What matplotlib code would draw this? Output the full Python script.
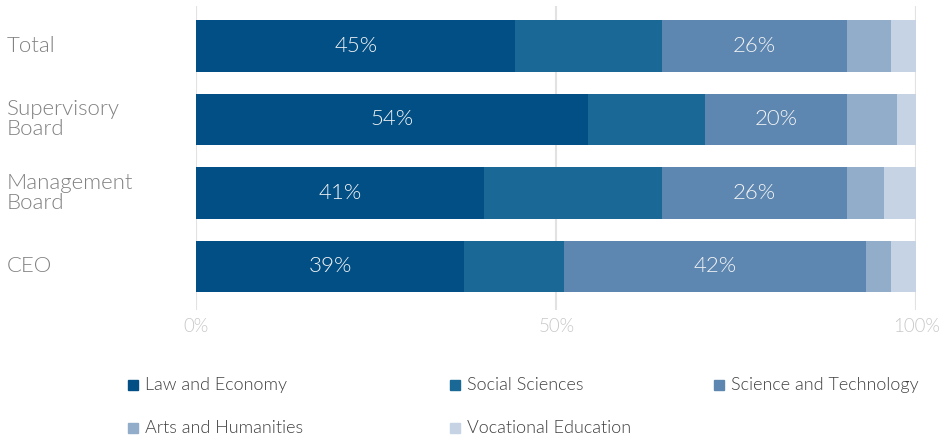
import matplotlib
matplotlib.use("Agg")
import matplotlib.pyplot as plt
from matplotlib.patches import Rectangle
import matplotlib.transforms as mtransforms

plt.rcParams['font.family'] = ['Lato', 'DejaVu Sans']

categories = ["Total", "Supervisory\nBoard", "Management\nBoard", "CEO"]
series = ["Law and Economy", "Social Sciences", "Science and Technology",
          "Arts and Humanities", "Vocational Education"]
law = [44.3, 54.4, 40.0, 37.2]
social = [20.4, 16.3, 24.7, 13.8]
science = [25.7, 19.7, 25.7, 42.0]
arts = [6.1, 6.9, 5.1, 3.5]
vocational = [3.5, 2.7, 4.5, 3.5]
law_labels = ["45%", "54%", "41%", "39%"]
science_labels = ["26%", "20%", "26%", "42%"]
xticks = [0, 50, 100]
xtick_labels = ["0%", "50%", "100%"]

colors = ["#024f85", "#196896", "#5d87b1", "#92adca", "#c6d3e5"]
W = 300

fig = plt.figure(figsize=(9.53, 4.40), dpi=100)
ax = fig.add_axes([196.3 / 953, 130 / 440, 720 / 953, 304 / 440])

values = [law, social, science, arts, vocational]
ypos = list(range(len(categories)))
left = [0.0] * len(categories)
bars = []
for name, vals, col in zip(series, values, colors):
    b = ax.barh(ypos, vals, left=left, height=0.707, color=col, zorder=2, label=name)
    bars.append(b)
    left = [l + v for l, v in zip(left, vals)]

ax.bar_label(bars[0], labels=law_labels, label_type='center', color='#f4f4f4',
             fontsize=16, fontweight=W)
ax.bar_label(bars[2], labels=science_labels, label_type='center', color='#f4f4f4',
             fontsize=16, fontweight=W)

ax.set_xlim(0, 100)
ax.set_ylim(3.592, -0.544)
ax.set_xticks(xticks)
ax.set_xticklabels(xtick_labels, color='#c8c8c8', fontsize=13.5, fontweight=W)
ax.tick_params(axis='x', length=0, pad=6)
ax.set_yticks([])
for s in ax.spines.values():
    s.set_visible(False)
ax.xaxis.grid(True, color='#e2e2e2', linewidth=1.5, zorder=0)
ax.set_axisbelow(True)

trans = mtransforms.blended_transform_factory(fig.transFigure, ax.transData)
for y, cat in zip(ypos, categories):
    ax.text(7 / 953, y, cat, transform=trans, ha='left', va='center',
            color='#808080', fontsize=16, fontweight=W, linespacing=1.0)

# manual legend grid
col_x = [128, 450, 714]
row_y = [385, 428]
for i, (name, col) in enumerate(zip(series, colors)):
    cx = col_x[i % 3]
    cy = row_y[i // 3]
    fig.patches.append(Rectangle((cx / 953, (440 - cy - 5) / 440), 10 / 953, 10 / 440,
                                 transform=fig.transFigure, color=col))
    fig.text((cx + 17) / 953, (440 - cy) / 440, name, ha='left', va='center',
             color='#404040', fontsize=13, fontweight=W)

fig.savefig("out.png", dpi=100)
